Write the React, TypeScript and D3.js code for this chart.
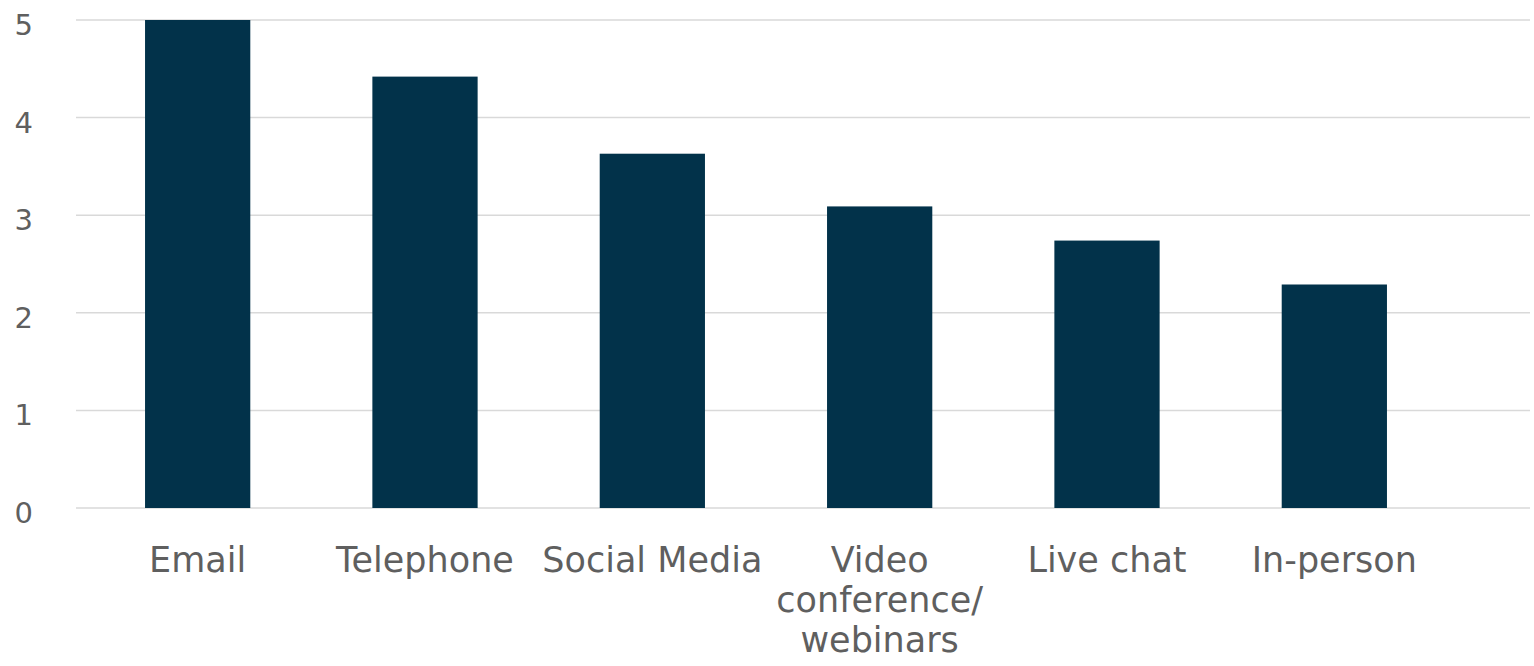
import React from "react";
import * as d3 from "d3";

const categories = ["Email", "Telephone", "Social Media", "Video conference/ webinars", "Live chat", "In-person"];
const values = [5.0, 4.42, 3.63, 3.09, 2.74, 2.29];
const yTicks = [0, 1, 2, 3, 4, 5];

const W = 1534;
const H = 666;
const BAR = "#02324a";
const TEXT = "#5f5f5f";
const GRID = "#d9d9d9";
const FONT = "'DejaVu Sans', sans-serif";

function wrap(label: string, maxChars: number): string[] {
  const words = label.split(" ");
  const lines: string[] = [];
  let cur = "";
  for (const w of words) {
    if (!cur) cur = w;
    else if ((cur + " " + w).length <= maxChars) cur = cur + " " + w;
    else {
      lines.push(cur);
      cur = w;
    }
  }
  if (cur) lines.push(cur);
  return lines;
}

export default function App() {
  const x = d3
    .scaleBand<string>()
    .domain(categories)
    .range([84, 1448])
    .paddingInner(0.537)
    .paddingOuter(0.2685);
  const y = d3.scaleLinear().domain([0, 5]).range([508, 20]);
  const gridX0 = 76;
  const gridX1 = 1530;

  return (
    <div style={{ position: "absolute", left: 0, top: 0 }}>
      <svg width={W} height={H} style={{ display: "block", background: "#fff" }}>
        <g>
          {yTicks.map((t) => (
            <line
              key={"g" + t}
              x1={gridX0}
              x2={gridX1}
              y1={y(t)}
              y2={y(t)}
              stroke={GRID}
              strokeWidth={1.5}
            />
          ))}
        </g>
        <g>
          {yTicks.map((t) => (
            <text
              key={"t" + t}
              x={33}
              y={y(t) + 5}
              textAnchor="end"
              dominantBaseline="central"
              fontFamily={FONT}
              fontSize={29}
              fill={TEXT}
            >
              {t}
            </text>
          ))}
        </g>
        <g>
          {categories.map((c, i) => (
            <rect
              key={c}
              x={x(c)!}
              width={x.bandwidth()}
              y={y(values[i])}
              height={y(0) - y(values[i])}
              fill={BAR}
            />
          ))}
        </g>
        <g>
          {categories.map((c) => {
            const lines = wrap(c, 12);
            const cx = x(c)! + x.bandwidth() / 2;
            return (
              <text
                key={"l" + c}
                x={cx}
                y={572}
                textAnchor="middle"
                fontFamily={FONT}
                fontSize={35}
                fill={TEXT}
              >
                {lines.map((ln, k) => (
                  <tspan key={k} x={cx} dy={k === 0 ? 0 : 40}>
                    {ln}
                  </tspan>
                ))}
              </text>
            );
          })}
        </g>
      </svg>
    </div>
  );
}
